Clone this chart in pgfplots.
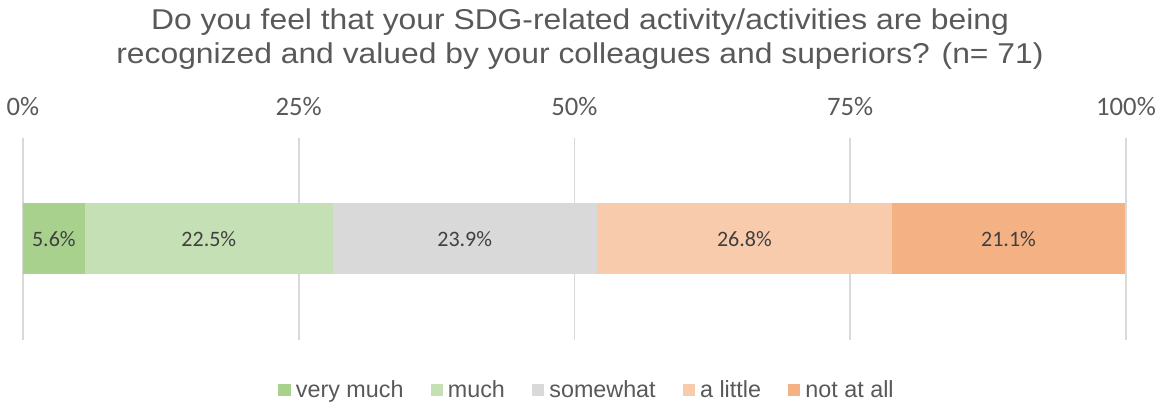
\documentclass[border=0pt]{standalone}
\usepackage{pgfplots}
\pgfplotsset{compat=1.18}
\usetikzlibrary{calc}
\usepackage{graphicx}
\usepackage{fontspec}
\setmainfont{Liberation Sans}
\newfontfamily\calibri{Carlito}
\definecolor{c1}{HTML}{A9D18E}
\definecolor{c2}{HTML}{C5E0B4}
\definecolor{c3}{HTML}{D9D9D9}
\definecolor{c4}{HTML}{F8CBAD}
\definecolor{c5}{HTML}{F4B183}
\definecolor{txt}{HTML}{595959}
\definecolor{lbl}{HTML}{404040}
\begin{document}
\begin{tikzpicture}
\begin{axis}[
  scale only axis,
  width=827.25pt, height=151.5pt,
  xbar stacked,
  bar width=53.25pt,
  xmin=0, xmax=100, ymin=-1, ymax=1,
  ytick=\empty,
  xtick={0,25,50,75,100},
  xticklabels={0\%,25\%,50\%,75\%,100\%},
  xticklabel pos=right,
  xticklabel style={font=\calibri\fontsize{20}{24}\selectfont, text=txt, anchor=base, yshift=16.5pt},
  xmajorgrids,
  major grid style={draw=c3, line width=1.3pt},
  axis line style={draw=none},
  tick style={draw=none},
  point meta=explicit,
  nodes near coords={\pgfmathprintnumber[fixed,fixed zerofill,precision=1,assume math mode=true]{\pgfplotspointmeta}\%},
  every node near coord/.append style={font=\calibri\fontsize{16.5}{19}\selectfont, text=lbl},
  legend columns=5,
  legend style={draw=none, at={(0.5105,-0.2475)}, anchor=center,
    font=\fontsize{17.5}{21}\selectfont, text=txt, inner sep=0pt,
    nodes={inner sep=0pt},
    /tikz/every odd column/.append style={column sep=3.75pt},
    /tikz/every even column/.append style={column sep=20.25pt}},
  legend image code/.code={\fill[#1] (0pt,-4.6pt) rectangle (9.3pt,4.7pt);},
  clip=false,
]
\addplot[fill=c1, draw=none] coordinates {(5.6,0) [5.6]};
\addplot[fill=c2, draw=none] coordinates {(22.5,0) [22.5]};
\addplot[fill=c3, draw=none] coordinates {(23.9,0) [23.9]};
\addplot[fill=c4, draw=none] coordinates {(26.8,0) [26.8]};
\addplot[fill=c5, draw=none] coordinates {(21.1,0) [21.1]};
\legend{very much, much, somewhat, a little, not at all}
\coordinate (SW) at (rel axis cs:0,0);
\end{axis}
\coordinate (O) at ($(SW)+(-17.25pt,255pt)$);
\begin{scope}[shift={(O)}, x=0.75pt, y=-0.75pt]
\node[anchor=base, text=txt, font=\fontsize{21.5}{26}\selectfont, inner sep=0pt] at (580,30) {\scalebox{1.11}[1]{Do you feel that your SDG-related activity/activities are being}};
\node[anchor=base, text=txt, font=\fontsize{21.5}{26}\selectfont, inner sep=0pt] at (580,64) {\scalebox{1.11}[1]{recognized and valued by your colleagues and superiors? (n= 71)}};
\end{scope}
\pgfresetboundingbox
\useasboundingbox (O) rectangle ++(868.5pt,-302.25pt);
\end{tikzpicture}
\end{document}
